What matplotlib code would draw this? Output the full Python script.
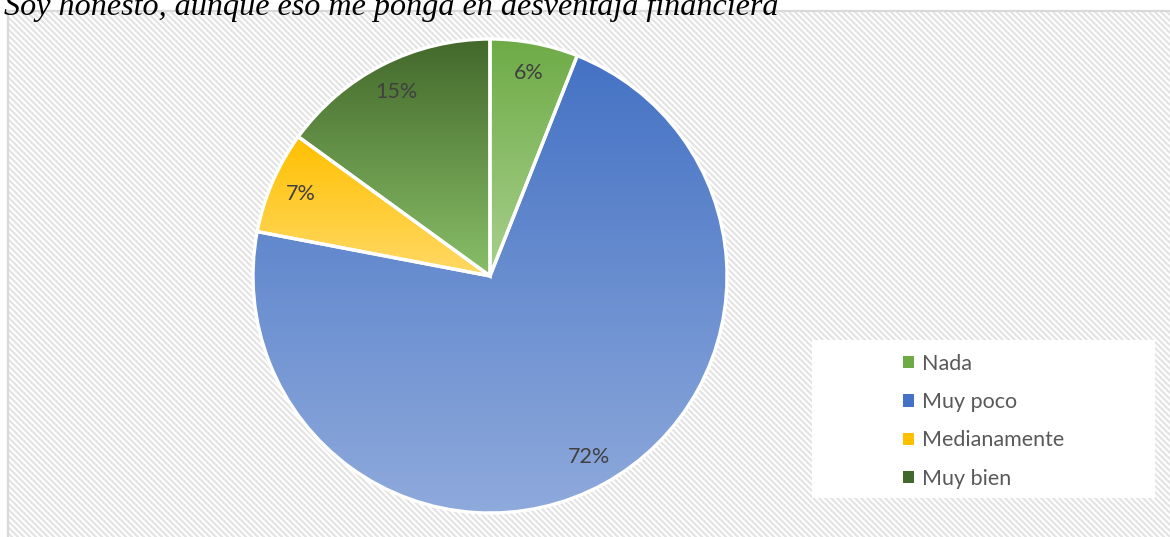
import numpy as np
import matplotlib
matplotlib.use("Agg")
import matplotlib.pyplot as plt
from matplotlib.collections import LineCollection
from matplotlib.patches import Rectangle, Patch
from matplotlib.colors import LinearSegmentedColormap

# datos de la encuesta
titulo = "Soy honesto, aunque eso me ponga en desventaja financiera"
categorias = ["Nada", "Muy poco", "Medianamente", "Muy bien"]
porcentajes = [6, 72, 7, 15]

# degradado vertical de cada porcion (arriba, abajo)
degradados = [("#6EAB46", "#A8D08D"),
              ("#4472C4", "#8FAADC"),
              ("#FFC000", "#FFD966"),
              ("#43682B", "#89BF68")]

W, H = 1170, 537
fig = plt.figure(figsize=(W / 100, H / 100), dpi=100)

# fondo: area del grafico con rayas diagonales y borde gris
bg = fig.add_axes([0, 0, 1, 1])
bg.set_xlim(0, W)
bg.set_ylim(H, 0)
bg.axis("off")
x0, y0 = 9, 12
area = Rectangle((x0, y0), W - x0 + 5, H - y0 + 5, facecolor="white", edgecolor="none")
bg.add_patch(area)
rayas = []
for c in range(-H, W + 10, 6):
    rayas.append([(c, 0), (c + H + 10, H + 10)])
lc = LineCollection(rayas, colors="#E3E3E3", linewidths=1.5)
bg.add_collection(lc)
lc.set_clip_path(area)
bg.plot([x0 - 1, x0 - 1], [y0 - 1, H + 5], color="#D9D9D9", lw=1.6)
bg.plot([x0 - 1, W + 5], [y0 - 1, y0 - 1], color="#D9D9D9", lw=1.6)

# caja blanca de la leyenda
bg.add_patch(Rectangle((812, 340), 343, 158, facecolor="white", edgecolor="none", zorder=3))

# titulo (cortado en el borde superior)
fig.text(4 / W, 1 - 15 / H, titulo, family="Liberation Serif", style="italic",
         fontsize=23.1, color="black", ha="left", va="baseline")

# pastel
cx, cy, r = 490, 276, 237
ax = fig.add_axes([(cx - r) / W, (H - cy - r) / H, 2 * r / W, 2 * r / H])
wedges, textos, autotextos = ax.pie(
    porcentajes, startangle=90, counterclock=False,
    autopct=lambda p: f"{p:.0f}%", pctdistance=0.87,
    wedgeprops=dict(edgecolor="white", linewidth=2.4),
    textprops=dict(family="Lato", fontsize=15.5, color="#404040"))

for w, (c_top, c_bot) in zip(wedges, degradados):
    verts = w.get_path().vertices
    ymin, ymax = verts[:, 1].min(), verts[:, 1].max()
    xmin, xmax = verts[:, 0].min(), verts[:, 0].max()
    cmap = LinearSegmentedColormap.from_list("g", [c_bot, c_top])
    grad = np.linspace(0, 1, 256).reshape(-1, 1)
    im = ax.imshow(grad, cmap=cmap, origin="lower", aspect="auto",
                   extent=(xmin, xmax, ymin, ymax), zorder=1)
    im.set_clip_path(w)
    w.set_facecolor("none")
    w.set_zorder(2)
    w.set_clip_on(False)
for t in autotextos:
    t.set_zorder(4)
ax.set_xlim(-1, 1)
ax.set_ylim(-1, 1)

# leyenda
handles = [Patch(facecolor=c_top, edgecolor="none") for c_top, c_bot in degradados]
fig.legend(handles, categorias, loc="upper left",
           bbox_to_anchor=(892 / W, 1 - 343 / H), frameon=False,
           prop=dict(family="Lato", size=15.5), labelcolor="#595959",
           handlelength=0.5, handleheight=0.5, handletextpad=0.4,
           labelspacing=0.85, borderpad=0)

fig.savefig("out.png", dpi=100)
